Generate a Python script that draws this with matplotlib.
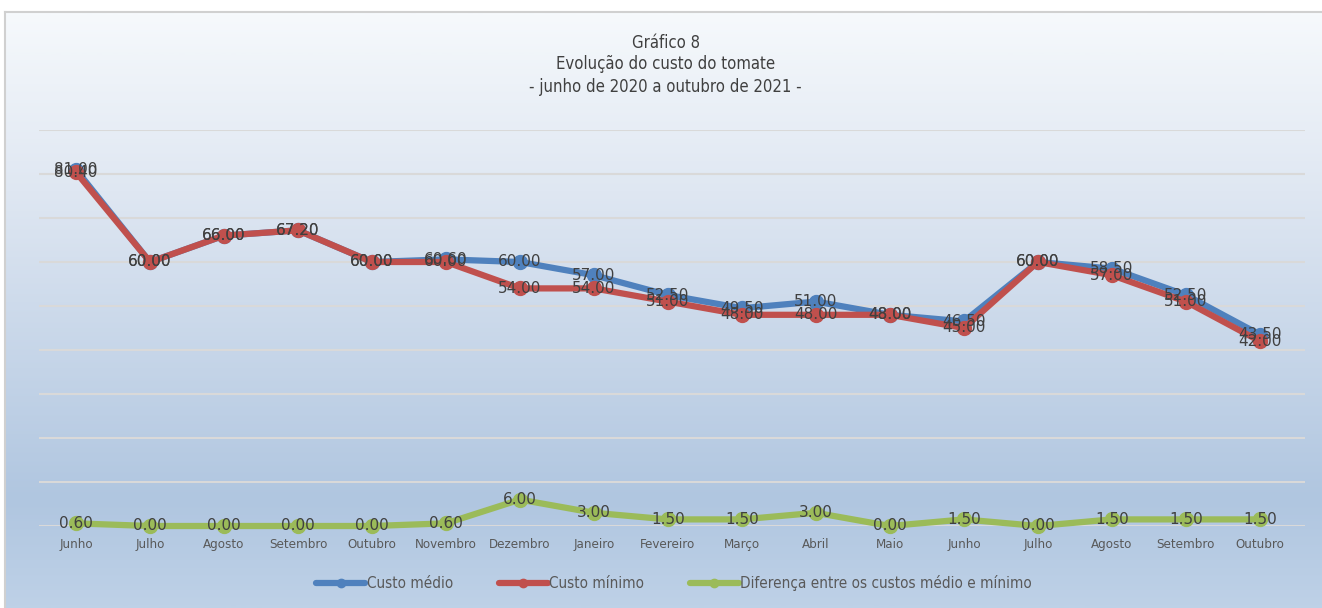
import numpy as np
import matplotlib.pyplot as plt
from matplotlib.colors import LinearSegmentedColormap

meses = ["Junho", "Julho", "Agosto", "Setembro", "Outubro", "Novembro", "Dezembro",
         "Janeiro", "Fevereiro", "Março", "Abril", "Maio", "Junho", "Julho",
         "Agosto", "Setembro", "Outubro"]
custo_medio = [81.00, 60.00, 66.00, 67.20, 60.00, 60.60, 60.00, 57.00, 52.50,
               49.50, 51.00, 48.00, 46.50, 60.00, 58.50, 52.50, 43.50]
custo_minimo = [80.40, 60.00, 66.00, 67.20, 60.00, 60.00, 54.00, 54.00, 51.00,
                48.00, 48.00, 48.00, 45.00, 60.00, 57.00, 51.00, 42.00]
diferenca = [0.60, 0.00, 0.00, 0.00, 0.00, 0.60, 6.00, 3.00, 1.50,
             1.50, 3.00, 0.00, 1.50, 0.00, 1.50, 1.50, 1.50]

W, H = 1322, 608
fig = plt.figure(figsize=(W / 100, H / 100), dpi=100)
fig.patch.set_facecolor("white")

# fonte estreita para títulos, eixo e legenda
narrow = dict(family="DejaVu Sans", stretch="condensed")

# fundo em degradê
bg = fig.add_axes([5 / W, 0, 1 - 5 / W, 1 - 12 / H])
cmap = LinearSegmentedColormap.from_list(
    "fundo", [(0.0, "#f6f9fc"), (0.3, "#dfe7f2"), (0.82, "#b0c6e0"), (1.0, "#bed1e7")])
grad = np.linspace(0, 1, 300).reshape(-1, 1)
bg.imshow(grad, aspect="auto", cmap=cmap, extent=[0, 1, 0, 1], origin="upper")
bg.set_axis_off()
fig.add_artist(plt.Line2D([5 / W, 1], [1 - 12 / H, 1 - 12 / H], color="#d0d0d0", lw=1.5))
fig.add_artist(plt.Line2D([5 / W, 5 / W], [0, 1 - 12 / H], color="#d0d0d0", lw=1.5))

ax = fig.add_axes([39 / W, 1 - 526 / H, (1305 - 39) / W, (526 - 130) / H])
ax.patch.set_alpha(0)
x = np.arange(len(meses))

ax.set_ylim(0, 90)
ax.set_xlim(-0.5, len(meses) - 0.5 + 0.11)
ax.set_yticks(np.arange(0, 91, 10))
ax.yaxis.grid(True, color="#d9d9d9", lw=1.5)
ax.set_axisbelow(True)
ax.tick_params(axis="y", left=False, labelleft=False)
ax.tick_params(axis="x", bottom=False, pad=5)
ax.set_xticks(x)
ax.set_xticklabels(meses, fontsize=9.5, color="#595959", **narrow)
for s in ax.spines.values():
    s.set_visible(False)

series = [
    (custo_medio, "#4f81bd", "Custo médio"),
    (custo_minimo, "#c0504d", "Custo mínimo"),
    (diferenca, "#9bbb59", "Diferença entre os custos médio e mínimo"),
]
for vals, cor, nome in series:
    ax.plot(x, vals, color=cor, lw=4.5, marker="o", ms=10, label=nome,
            solid_capstyle="round", clip_on=False)

for vals, cor, nome in series:
    for xi, v in zip(x, vals):
        ax.text(xi, v, f"{v:.2f}", ha="center", va="center", fontsize=11,
                color="#404040", zorder=5)

titulos = ["Gráfico 8", "Evolução do custo do tomate", "- junho de 2020 a outubro de 2021 -"]
for yy, t in zip([43, 64, 87], titulos):
    fig.text(0.5035, 1 - yy / H, t, ha="center", va="center",
             fontsize=12, color="#404040", **narrow)

leg = fig.legend(loc="center", bbox_to_anchor=(0.51, 1 - 583 / H), ncol=3,
                 frameon=False, handlelength=3.2, handletextpad=0.1,
                 columnspacing=3.0, prop={"family": "DejaVu Sans", "stretch": "condensed", "size": 11},
                 labelcolor="#595959")
for h in leg.legend_handles:
    h.set_markersize(6)

fig.savefig("out.png", dpi=100)
